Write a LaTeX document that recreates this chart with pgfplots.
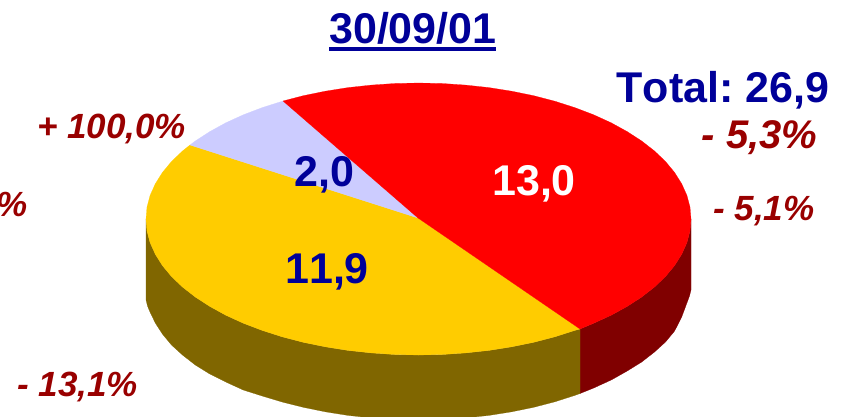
\documentclass[border=0pt]{standalone}
\usepackage{pgfplots}
\pgfplotsset{compat=1.18}
\usepackage{fontspec}
\setmainfont[Kerning=Off]{Liberation Sans}
\frenchspacing
\definecolor{navytxt}{RGB}{0,0,153}
\definecolor{redtxt}{RGB}{153,0,0}
\definecolor{lav}{RGB}{204,204,255}
\definecolor{yel}{RGB}{255,204,0}
\definecolor{dyel}{RGB}{128,102,0}
\definecolor{dred}{RGB}{128,0,0}
\newcommand{\bigb}[1]{\fontsize{43}{43}\selectfont\bfseries #1}
\newcommand{\pct}[2]{\fontsize{#1}{#1}\selectfont\bfseries\itshape #2}
\begin{document}
\begin{tikzpicture}
\path[use as bounding box,clip] (0,0) rectangle (845pt,416pt);
\begin{axis}[
  at={(0,0)},anchor=south west,
  scale only axis,width=845pt,height=416pt,
  xmin=0,xmax=845,ymin=0,ymax=416,y dir=reverse,
  hide axis,clip=true]
% side of the red slice
\addplot[fill=dred,draw=dred,line width=0.2pt] coordinates {
 (691,219)(690,230.9)(686.9,242.6)(681.7,254.2)(674.6,265.5)(665.5,276.5)(654.5,287)
 (641.7,297)(627.2,306.4)(611.2,315.2)(593.7,323.2)(580,329)
 (580,393.5)(593.7,388)(611.2,380)(627.2,371)(641.7,362)(654.5,352)(665.5,342)
 (674.6,331)(681.7,317)(686.9,303)(689.5,296)(691,290)} -- cycle;
% side of the yellow slice
\addplot[fill=dyel,draw=dyel,line width=0.2pt] coordinates {
 (580,329)(574.8,330.4)(554.8,336.8)(533.7,342.3)(511.7,346.8)(489,350.4)(465.8,352.9)
 (442.3,354.5)(418.5,355)(394.7,354.5)(371.2,352.9)(348,350.4)(325.3,346.8)(303.3,342.3)
 (282.2,336.8)(262.2,330.4)(243.3,323.2)(225.8,315.2)(209.8,306.4)(195.3,297)(182.5,287)
 (171.5,276.5)(162.4,265.5)(155.3,254.2)(150.1,242.6)(147,230.9)(146,219)
 (146,300)(147.5,306)(150,312)(155.3,323)(162.4,334)(171.5,345)(182.5,355)(195.3,365)
 (209.8,374)(225.8,382)(243.3,390)(262.2,396)(282.2,402)(303.3,407.3)(325.3,411.8)
 (348,415.4)(371.2,417.9)(394.7,419.5)(418.5,420)(442.3,419.5)(465.8,417.9)(489,415.4)
 (511.7,411.8)(533.7,407.3)(554.8,401.8)(574.8,395.4)(580,393.5)} -- cycle;
% yellow slice: 11,9
\addplot[fill=yel,draw=yel,line width=0.2pt] coordinates {
 (418,218)(580,329)(574.8,330.4)(554.8,336.8)(533.7,342.3)(511.7,346.8)(489,350.4)
 (465.8,352.9)(442.3,354.5)(418.5,355)(394.7,354.5)(371.2,352.9)(348,350.4)(325.3,346.8)
 (303.3,342.3)(282.2,336.8)(262.2,330.4)(243.3,323.2)(225.8,315.2)(209.8,306.4)
 (195.3,297)(182.5,287)(171.5,276.5)(162.4,265.5)(155.3,254.2)(150.1,242.6)(147,230.9)
 (146,219)(147,207.1)(150.1,195.4)(155.3,183.8)(162.4,172.5)(171.5,161.5)(182.5,151)
 (190,145)} -- cycle;
% lavender slice: 2,0
\addplot[fill=lav,draw=lav,line width=0.2pt] coordinates {
 (418,218)(190,145)(195.3,141)(209.8,131.6)(225.8,122.8)(243.3,114.8)(262.2,107.6)(283,101)} -- cycle;
% red slice: 13,0
\addplot[fill=red,draw=red,line width=0.2pt] coordinates {
 (418,218)(283,101)(303.3,95.7)(325.3,91.2)(348,87.6)(371.2,85.1)(394.7,83.5)(418.5,83)
 (442.3,83.5)(465.8,85.1)(489,87.6)(511.7,91.2)(533.7,95.7)(554.8,101.2)(574.8,107.6)
 (593.7,114.8)(611.2,122.8)(627.2,131.6)(641.7,141)(654.5,151)(665.5,161.5)(674.6,172.5)
 (681.7,183.8)(686.9,195.4)(690,207.1)(691,219)(690,230.9)(686.9,242.6)(681.7,254.2)
 (674.6,265.5)(665.5,276.5)(654.5,287)(641.7,297)(627.2,306.4)(611.2,315.2)(593.7,323.2)
 (580,329)} -- cycle;
% title underline
\addplot[fill=navytxt,draw=none] coordinates {(329,47)(496,47)(496,51)(329,51)} -- cycle;
\node[anchor=base west,inner sep=0pt,text=navytxt] at (axis cs:329,43.5) {\bigb{30/09/01}};
\node[anchor=base west,inner sep=0pt,text=navytxt] at (axis cs:616.5,102.7) {\bigb{Total: 26,9}};
\node[anchor=base west,inner sep=0pt,text=white] at (axis cs:492,195) {\bigb{13,0}};
\node[anchor=base west,inner sep=0pt,text=navytxt] at (axis cs:294.5,186) {\bigb{2,0}};
\node[anchor=base west,inner sep=0pt,text=navytxt] at (axis cs:285,283.5) {\bigb{11,9}};
\node[anchor=base west,inner sep=0pt,text=redtxt] at (axis cs:37,138) {\pct{35}{+ 100,0\%}};
\node[anchor=base east,inner sep=0pt,text=redtxt] at (axis cs:28,216.5) {\pct{35}{\%}};
\node[anchor=base west,inner sep=0pt,text=redtxt] at (axis cs:17,396) {\pct{35}{- 13,1\%}};
\node[anchor=base west,inner sep=0pt,text=redtxt] at (axis cs:701.5,148) {\pct{40}{- 5,3\%}};
\node[anchor=base west,inner sep=0pt,text=redtxt] at (axis cs:713,220) {\pct{35}{- 5,1\%}};
\end{axis}
\end{tikzpicture}
\end{document}
